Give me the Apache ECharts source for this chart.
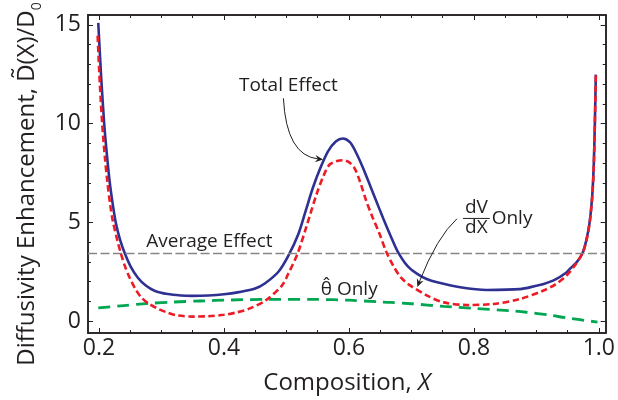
<!DOCTYPE html>
<html><head><meta charset="utf-8">
<script src="https://cdn.jsdelivr.net/npm/echarts@6/dist/echarts.min.js"></script>
<style>html,body{margin:0;padding:0;background:#fff}#c{width:618px;height:400px}</style>
</head><body><div id="c"></div>
<script>
// ---- data ----
const totalX = [0.1989,0.2035,0.2084,0.2128,0.2174,0.2222,0.2269,0.2340,0.2412,0.2510,0.2623,0.2750,0.2889,0.3100,0.3312,0.349,0.375,0.40,0.424,0.45,0.466,0.4873,0.503,0.519,0.531,0.5428,0.555,0.5666,0.579,0.5904,0.602,0.612,0.622,0.6433,0.655,0.667,0.6777,0.6936,0.710,0.7254,0.7412,0.7782,0.8206,0.8735,0.8999,0.9106,0.930,0.9476,0.9528,0.965,0.974,0.980,0.985,0.988,0.990,0.992,0.9936,0.9952];
const totalY = [15.1,12.4,10.0,8.4,7.0,5.9,5.0,4.1,3.45,2.75,2.2,1.8,1.54,1.37,1.3,1.28,1.3,1.36,1.47,1.65,1.92,2.5,3.3,4.4,5.6,6.79,7.8,8.6,9.1,9.25,9.05,8.5,7.8,6.12,5.2,4.3,3.55,2.8,2.38,2.12,1.97,1.72,1.58,1.62,1.79,1.87,2.1,2.45,2.62,3.0,3.45,4.1,4.95,5.8,6.62,8.0,9.95,12.48];

const dvdxX = [0.1979,0.2015,0.2052,0.2095,0.2137,0.2180,0.2227,0.2290,0.2349,0.2420,0.2492,0.2580,0.2677,0.2800,0.2936,0.310,0.3254,0.3523,0.375,0.40,0.42,0.4396,0.4662,0.4925,0.503,0.5179,0.5322,0.548,0.560,0.570,0.5904,0.600,0.609,0.618,0.6274,0.638,0.6487,0.660,0.672,0.6836,0.6960,0.7254,0.7519,0.7889,0.8312,0.8735,0.9106,0.930,0.9476,0.960,0.974,0.980,0.985,0.988,0.990,0.992,0.9936,0.9952];
const dvdxY = [14.45,12.0,10.0,8.3,7.0,5.9,5.0,4.15,3.45,2.75,2.2,1.65,1.2,0.88,0.64,0.43,0.29,0.23,0.25,0.32,0.44,0.62,1.04,1.79,2.4,3.42,4.8,6.4,7.4,7.95,8.15,8.05,7.75,7.05,6.12,5.25,4.45,3.5,2.75,2.2,1.85,1.29,0.95,0.82,0.87,1.12,1.54,1.85,2.29,2.75,3.45,4.05,4.9,5.75,6.55,7.95,9.9,12.45];

const thetaX = [0.199,0.24,0.281,0.32,0.3603,0.41,0.4662,0.5455,0.60,0.646,0.6666,0.70,0.7519,0.80,0.8576,0.8841,0.92,0.9476,0.9979];
const thetaY = [0.67,0.79,0.9,0.97,1.02,1.07,1.1,1.1,1.06,0.98,0.95,0.88,0.75,0.65,0.53,0.45,0.31,0.17,-0.05];

const averageEffect = 3.43;

const xLabelTicks = [0.2,0.4,0.6,0.8,1.0];
const xMinorTicks = [0.25,0.3,0.35,0.45,0.5,0.55,0.65,0.7,0.75,0.85,0.9,0.95];
const yLabelTicks = [0,5,10,15];
const yMinorTicks = [1,2,3,4,6,7,8,9,11,12,13,14];

// ---- chart ----
const FONT = '"Open Sans", "Noto Sans", sans-serif';
const INK = '#231f20';
const XMIN = 0.1825, XMAX = 1.011, YMIN = -0.6, YMAX = 15.5;
const zip = (xs, ys) => xs.map((x, i) => [x, ys[i]]);

function axis(kind, pos, ticks, len, extra) {
  const a = {
    type: 'value', position: pos,
    min: kind === 'x' ? XMIN : YMIN, max: kind === 'x' ? XMAX : YMAX,
    axisLine: { show: true, onZero: false, lineStyle: { color: INK, width: 1.5 } },
    axisTick: { show: true, inside: true, length: len, customValues: ticks, lineStyle: { color: INK, width: 1 } },
    axisLabel: { show: false },
    splitLine: { show: false }
  };
  return Object.assign(a, extra || {});
}

const chart = echarts.init(document.getElementById('c'));
const option = {
  animation: false,
  backgroundColor: '#fff',
  grid: { left: 88, right: 8, top: 15, bottom: 63, containLabel: false },
  xAxis: [
    axis('x', 'bottom', xLabelTicks, 5, {
      axisLabel: { show: true, customValues: xLabelTicks, formatter: v => v.toFixed(1), color: INK, fontFamily: FONT, fontSize: 23, margin: 4 },
      name: '{n|Composition, }{i|X}', nameLocation: 'middle', nameGap: 38,
      nameTextStyle: { color: INK, fontFamily: FONT, fontSize: 24, rich: { n: { fontFamily: FONT, fontSize: 24, color: INK }, i: { fontFamily: FONT, fontSize: 24, color: INK, fontStyle: 'italic' } } }
    }),
    axis('x', 'bottom', xMinorTicks, 3),
    axis('x', 'top', xLabelTicks, 5),
    axis('x', 'top', xMinorTicks, 3)
  ],
  yAxis: [
    axis('y', 'left', yLabelTicks, 5, {
      axisLabel: { show: true, customValues: yLabelTicks, color: INK, fontFamily: FONT, fontSize: 23, margin: 7 },
      name: '{n|Diffusivity Enhancement, D\u0303(X)/D}{s|0}', nameLocation: 'middle', nameGap: 44, nameRotate: 90,
      nameTextStyle: { color: INK, fontFamily: FONT, fontSize: 24, padding: [0, 20, 0, 0],
        rich: { n: { fontFamily: FONT, fontSize: 24, color: INK, lineHeight: 34 }, s: { fontFamily: FONT, fontSize: 14, color: INK, verticalAlign: 'bottom' } } }
    }),
    axis('y', 'left', yMinorTicks, 3),
    axis('y', 'right', yLabelTicks, 5),
    axis('y', 'right', yMinorTicks, 3)
  ],
  series: [
    {
      name: 'Total Effect', type: 'line', xAxisIndex: 0, yAxisIndex: 0,
      data: zip(totalX, totalY), showSymbol: false, smooth: 0.3,
      lineStyle: { color: '#2e3192', width: 2.6 }, z: 3,
      markLine: { silent: true, symbol: 'none', label: { show: false },
        lineStyle: { color: '#868686', width: 1.4, type: [9, 3.5] },
        data: [{ yAxis: averageEffect }] }
    },
    {
      name: 'theta only', type: 'line', xAxisIndex: 0, yAxisIndex: 0,
      data: zip(thetaX, thetaY), showSymbol: false, smooth: 0.3,
      lineStyle: { color: '#00a651', width: 2.8, type: [12, 7] }, z: 4
    },
    {
      name: 'dV/dX only', type: 'line', xAxisIndex: 0, yAxisIndex: 0,
      data: zip(dvdxX, dvdxY), showSymbol: false, smooth: 0.3,
      lineStyle: { color: '#ed1c24', width: 2.6, type: [6.5, 3.5] }, z: 5
    }
  ]
};
chart.setOption(option);

// ---- annotations, anchored in data coordinates ----
const P = (x, y) => chart.convertToPixel({ seriesIndex: 0 }, [x, y]);
function txt(x, y, s, size, align) {
  const p = P(x, y);
  return { type: 'text', x: p[0], y: p[1], z: 20,
    style: { text: s, fill: INK, font: size + 'px ' + FONT, align: align, textAlign: align, verticalAlign: 'middle', textVerticalAlign: 'middle' } };
}
function arrow(s, c, e) {
  const a = P(s[0], s[1]), b = P(c[0], c[1]), t = P(e[0], e[1]);
  let ux = t[0] - b[0], uy = t[1] - b[1];
  const L = Math.hypot(ux, uy); ux /= L; uy /= L;
  const nx = -uy, ny = ux, len = 8, w = 3.6;
  return [
    { type: 'bezierCurve', z: 20, shape: { x1: a[0], y1: a[1], cpx1: b[0], cpy1: b[1], x2: t[0] - ux * 5, y2: t[1] - uy * 5 },
      style: { stroke: INK, lineWidth: 1, fill: null } },
    { type: 'polygon', z: 20, shape: { points: [
        [t[0], t[1]],
        [t[0] - ux * len + nx * w, t[1] - uy * len + ny * w],
        [t[0] - ux * len * 0.65, t[1] - uy * len * 0.65],
        [t[0] - ux * len - nx * w, t[1] - uy * len - ny * w]] },
      style: { fill: INK } }
  ];
}
const barL = P(0.7825, 5.2), barR = P(0.8254, 5.2);
const elements = [
  txt(0.5031, 11.94, 'Total Effect', 19, 'center'),
  ...arrow([0.4952, 11.285], [0.5, 8.385], [0.5587, 8.185]),
  txt(0.2757, 4.05, 'Average Effect', 19, 'left'),
  txt(0.555, 1.6, '\u03B8\u0302 Only', 19, 'left'),
  txt(0.804, 5.735, 'dV', 19, 'center'),
  txt(0.804, 4.735, 'dX', 19, 'center'),
  { type: 'line', z: 20, shape: { x1: barL[0], y1: barL[1], x2: barR[0], y2: barR[1] }, style: { stroke: INK, lineWidth: 1 } },
  txt(0.8285, 5.215, 'Only', 19, 'left'),
  ...arrow([0.773, 5.185], [0.7413, 4.285], [0.7095, 1.735])
];
chart.setOption({ graphic: { elements: elements } });
</script>
</body></html>
